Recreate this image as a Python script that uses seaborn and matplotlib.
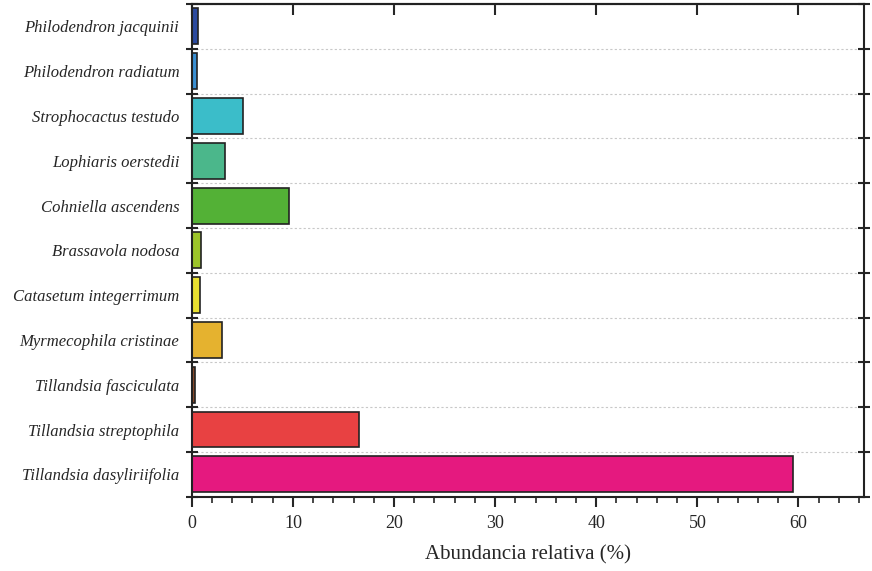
import numpy as np
import pandas as pd
import matplotlib
matplotlib.use("Agg")
import matplotlib.pyplot as plt
import seaborn as sns
from matplotlib.ticker import MultipleLocator, FixedLocator, NullFormatter

# Data
species = [
    "Philodendron jacquinii",
    "Philodendron radiatum",
    "Strophocactus testudo",
    "Lophiaris oerstedii",
    "Cohniella ascendens",
    "Brassavola nodosa",
    "Catasetum integerrimum",
    "Myrmecophila cristinae",
    "Tillandsia fasciculata",
    "Tillandsia streptophila",
    "Tillandsia dasyliriifolia",
]
abundance = [0.6, 0.55, 5.1, 3.3, 9.6, 0.9, 0.85, 3.0, 0.35, 16.5, 59.5]
colors = [
    "#2b4a9f", "#3a8fd2", "#3bbdc9", "#4bb78b", "#53b136", "#9cc42a",
    "#e9e030", "#e5b22f", "#8a4a2b", "#e84142", "#e5197f",
]

df = pd.DataFrame({"especie": species, "abundancia": abundance})

sns.set_style("white")
plt.rcParams["font.family"] = ["Liberation Serif", "DejaVu Serif"]

fig = plt.figure(figsize=(8.72, 5.71), dpi=100)
ax = fig.add_axes([0.220, 0.130, 0.771, 0.863])

sns.barplot(data=df, x="abundancia", y="especie", hue="especie",
            palette=colors, orient="h", width=0.8, legend=False,
            edgecolor="#222222", linewidth=1.2, saturation=1, ax=ax)

n = len(species)
ax.set_xlim(0, 66.5)
ax.set_ylim(n - 0.5, -0.5)

# y: labels at category centres, ticks/grid at boundaries
ax.yaxis.set_major_locator(FixedLocator(np.arange(-0.5, n, 1.0)))
ax.yaxis.set_major_formatter(NullFormatter())
ax.yaxis.set_minor_locator(FixedLocator(np.arange(n)))
ax.set_yticklabels(species, minor=True, fontstyle="italic", fontsize=12)
ax.tick_params(axis="y", which="minor", length=0, pad=9)
ax.tick_params(axis="y", which="major", direction="inout", length=8,
               width=1.5, left=True, right=True)
ax.yaxis.grid(True, which="major", linestyle=(0, (2, 2)), color="#c8c8c8",
              linewidth=0.8)
ax.set_axisbelow(True)

# x ticks
ax.xaxis.set_major_locator(MultipleLocator(10))
ax.xaxis.set_minor_locator(MultipleLocator(2))
ax.tick_params(axis="x", which="major", direction="out", length=7, width=1.5,
               labelsize=13, pad=6, bottom=True, top=False)
ax.tick_params(axis="x", which="minor", direction="out", length=4, width=1.2,
               bottom=True, top=False)
ax.xaxis.grid(False)

# top ticks pointing inward
sec = ax.secondary_xaxis("top")
sec.xaxis.set_major_locator(MultipleLocator(10))
sec.tick_params(axis="x", direction="in", length=8, width=1.5, labeltop=False)
sec.spines["top"].set_linewidth(1.5)

for s in ax.spines.values():
    s.set_linewidth(1.5)
    s.set_color("#222222")

ax.set_ylabel("")
ax.set_xlabel("Abundancia relativa (%)", fontsize=15, labelpad=10)

fig.savefig("out.png", dpi=100)
